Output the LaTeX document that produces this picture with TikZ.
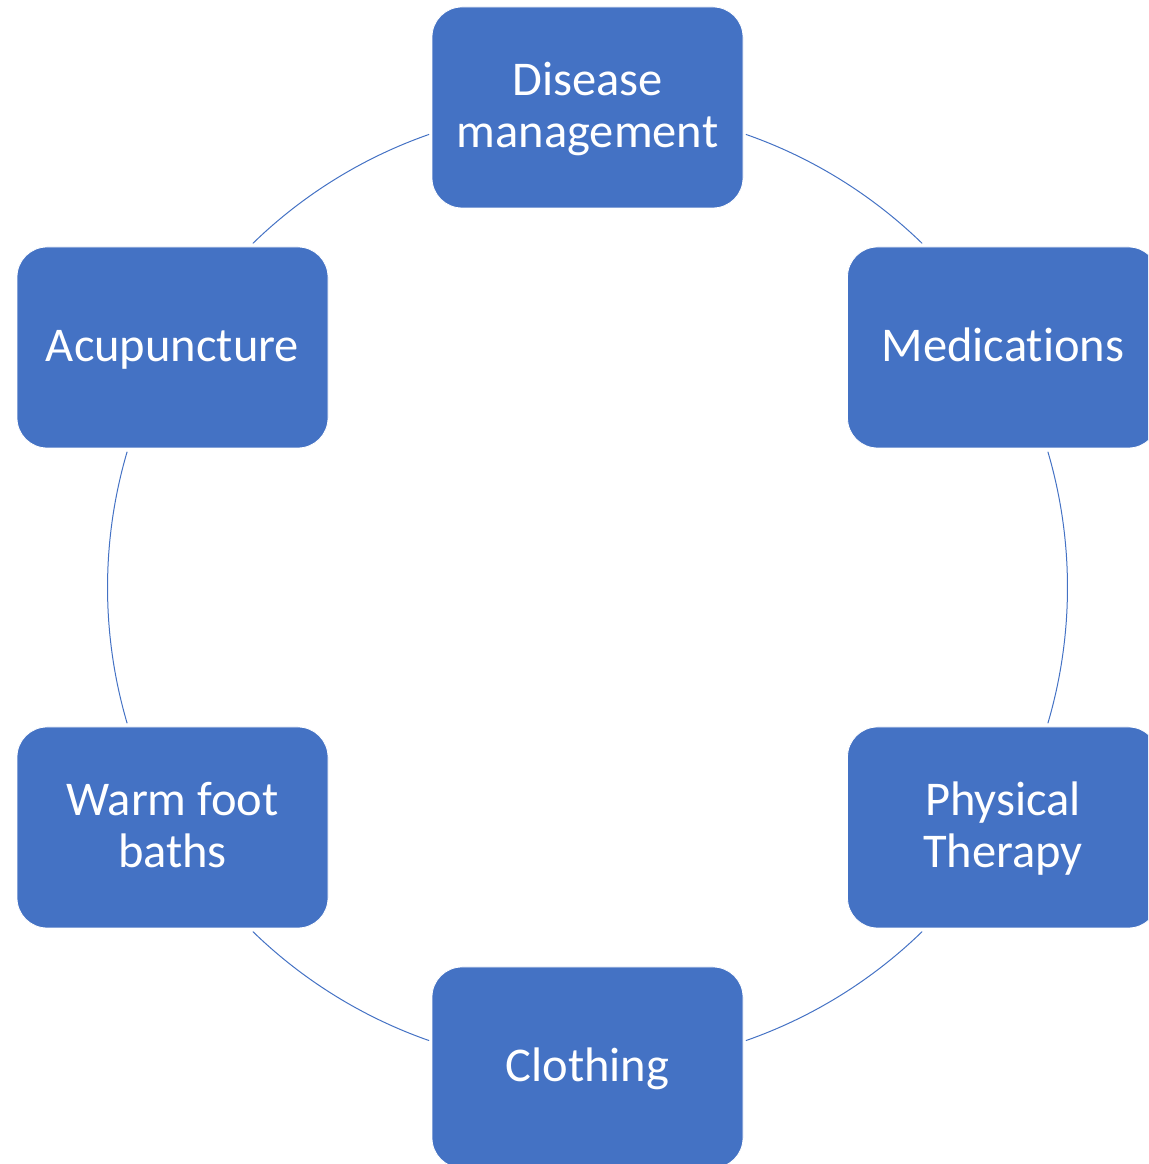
\documentclass[tikz,border=0pt]{standalone}
\usepackage{fontspec}
\setmainfont{Carlito}[Ligatures=NoCommon]
\definecolor{officeblue}{HTML}{4472C4}
\tikzset{
  stepbox/.style={rectangle, rounded corners=30pt, fill=officeblue, draw=white, line width=0.8pt,
    minimum width=311pt, minimum height=201pt, text=white, align=center,
    font=\fontsize{48.5pt}{52pt}\selectfont, text height=38pt, text depth=9pt, inner sep=0pt},
  twoline/.style={text height=90pt, text depth=9pt},
  conn/.style={draw=officeblue, line width=1pt}
}
\begin{document}
\begin{tikzpicture}[x=1pt,y=1pt]
\useasboundingbox (0,0) rectangle (1148,1164);
\clip (0,0) rectangle (1148,1164);
\coordinate (c) at (587.5,576.5);
% connectors (arcs of the cycle)
\draw[conn] (c) ++(45.8:480) coordinate (a1) arc[start angle=45.8, end angle=70.73, radius=480];
\draw[conn] (c) ++(109.27:480) coordinate (a2) arc[start angle=109.27, end angle=134.2, radius=480];
\draw[conn] (c) ++(163.57:480) coordinate (a3) arc[start angle=163.57, end angle=196.43, radius=480];
\draw[conn] (c) ++(225.8:480) coordinate (a4) arc[start angle=225.8, end angle=250.73, radius=480];
\draw[conn] (c) ++(289.27:480) coordinate (a5) arc[start angle=289.27, end angle=314.2, radius=480];
\draw[conn] (c) ++(-16.43:480) coordinate (a6) arc[start angle=-16.43, end angle=16.43, radius=480];
% boxes
\node[stepbox, twoline] (dis) at (587.5,1056.5) {Disease\\management};
\node[stepbox] (med) at (1003,816.5) {Medications};
\node[stepbox, twoline] (phy) at (1003,336.5) {Physical\\Therapy};
\node[stepbox] (clo) at (587.5,96.5) {Clothing};
\node[stepbox, twoline] (war) at (172.5,336.5) {Warm foot\\baths};
\node[stepbox] (acu) at (172.5,816.5) {Acupuncture};
\end{tikzpicture}
\end{document}
